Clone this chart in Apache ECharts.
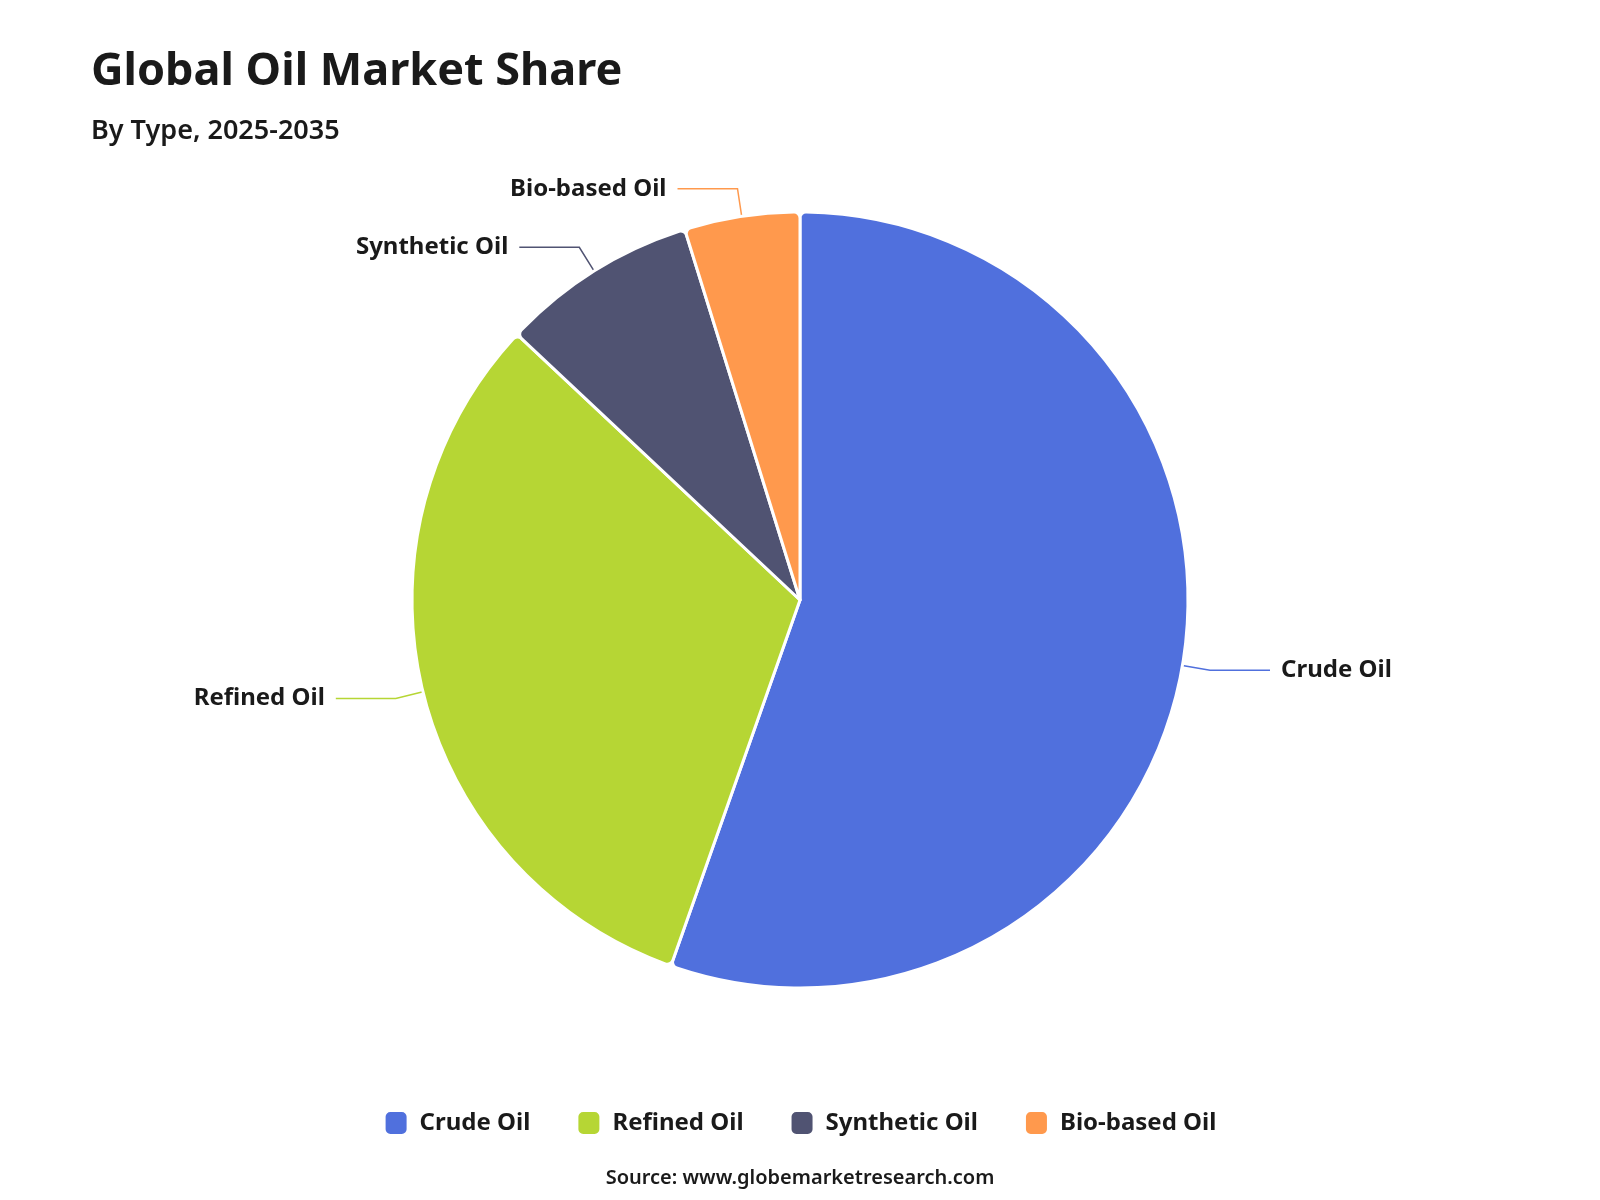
<!DOCTYPE html>
<html>
<head>
<meta charset="utf-8">
<title>Global Oil Market Share</title>
<script src="https://cdn.jsdelivr.net/npm/echarts@6/dist/echarts.min.js"></script>
<style>
  html, body { margin: 0; padding: 0; background: #ffffff; }
  #chart { width: 1600px; height: 1200px; }
</style>
</head>
<body>
<div id="chart"></div>
<script>
// Data
var categories = ['Crude Oil', 'Refined Oil', 'Synthetic Oil', 'Bio-based Oil'];
var shares = [55.4, 31.6, 8.2, 4.8];
var colors = ['#5070dd', '#b6d634', '#505372', '#ff994d'];

var fontFamily = '"Noto Sans", "Open Sans", Arial, sans-serif';

var chart = echarts.init(document.getElementById('chart'));

var pieData = categories.map(function (name, i) {
    return { name: name, value: shares[i], itemStyle: { color: colors[i] } };
});

var options = {
    backgroundColor: '#ffffff',
    textStyle: { fontFamily: fontFamily },
    // Title and subtitle
    title: {
        text: 'Global Oil Market Share',
        subtext: 'By Type, 2025-2035',
        left: 86,
        top: 45,
        itemGap: 23,
        textStyle: {
            fontFamily: fontFamily,
            fontSize: 45,
            fontWeight: 'bold',
            color: '#1a1a1a'
        },
        subtextStyle: {
            fontFamily: fontFamily,
            fontSize: 27,
            fontWeight: 600,
            color: '#1a1a1a'
        }
    },
    // Legend at the bottom
    legend: {
        bottom: 59,
        left: 'center',
        icon: 'roundRect',
        itemWidth: 23,
        itemHeight: 24,
        itemGap: 46,
        textStyle: {
            fontFamily: fontFamily,
            fontSize: 24,
            fontWeight: 'bold',
            color: '#1a1a1a',
            padding: [0, 0, 0, 7]
        },
        data: categories
    },
    // Source note
    graphic: [{
        type: 'text',
        left: 'center',
        bottom: 12,
        style: {
            text: 'Source: www.globemarketresearch.com',
            font: '600 20px ' + fontFamily,
            fill: '#1a1a1a'
        }
    }],
    series: [{
        type: 'pie',
        center: [800, 600],
        radius: 388,
        startAngle: 90,
        clockwise: true,
        itemStyle: {
            borderColor: '#ffffff',
            borderWidth: 3,
            borderRadius: 6
        },
        label: {
            show: true,
            formatter: '{b}',
            fontFamily: fontFamily,
            fontSize: 24,
            fontWeight: 'bold',
            color: '#1a1a1a',
            padding: [0, 6]
        },
        labelLine: {
            show: true,
            length: 28,
            length2: 60,
            lineStyle: { width: 1.5 }
        },
        emphasis: { scale: false },
        data: pieData
    }]
};

chart.setOption(options);
</script>
</body>
</html>
